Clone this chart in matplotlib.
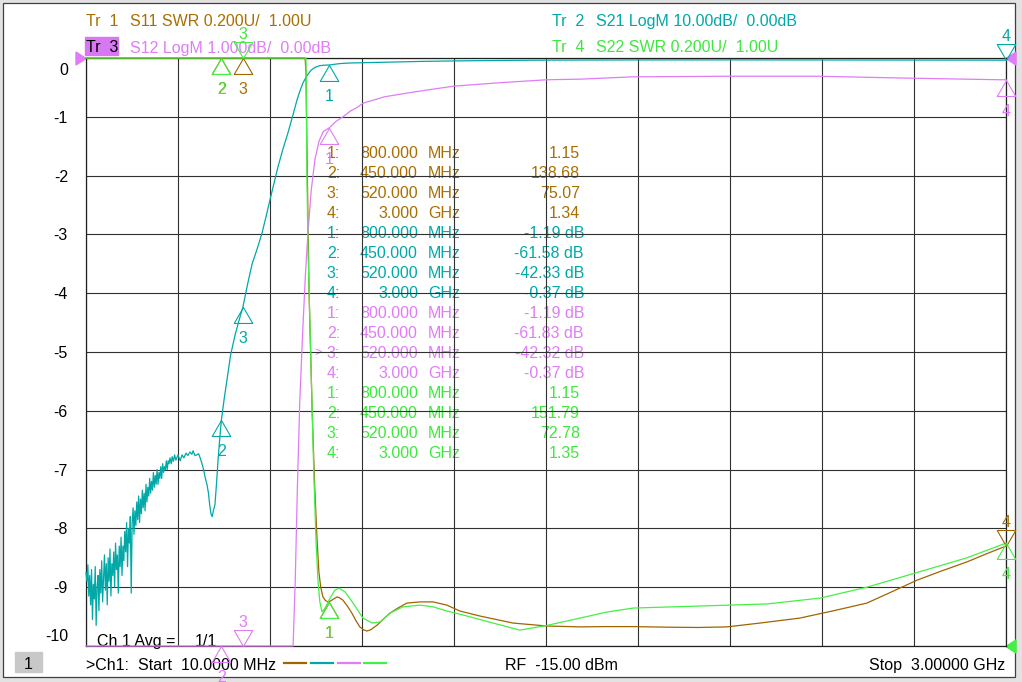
import numpy as np
import matplotlib.pyplot as plt
from matplotlib.path import Path
from matplotlib.patches import Rectangle, Polygon

plt.rcParams['font.family'] = ['Liberation Sans', 'DejaVu Sans']
FS = 11.5

# ---- data (MHz / SWR / dB) ----
s21_f = [10, 13, 16, 19, 22, 25, 28, 31, 34, 37,
         40, 43, 46, 49, 52, 55, 58, 61, 64, 67,
         70, 73, 76, 79, 82, 85, 88, 91, 94, 97,
         100, 103, 106, 109, 112, 115, 118, 121, 124, 127,
         130, 133, 136, 139, 142, 145, 148, 151, 154, 157,
         160, 163, 166, 169, 172, 175, 178, 181, 184, 187,
         190, 193, 196, 199, 202, 205, 208, 211, 214, 217,
         220, 223, 226, 229, 232, 235, 238, 241, 244, 247,
         250, 253, 256, 259, 262, 265, 268, 271, 274, 277,
         280, 283, 287, 290, 294, 298, 302, 309, 316, 322,
         328, 335, 341, 348, 354, 358, 364, 370, 376, 381,
         387, 392, 398, 403, 408, 412, 416, 420, 424, 429,
         434, 439, 445, 450, 459, 468, 480, 495, 508, 520,
         535, 550, 566, 582, 595, 608, 621, 634, 650, 666,
         681, 696, 706, 715, 728, 741, 754, 770, 785, 800,
         835, 868, 910, 1000, 1100, 1203, 1350, 1508, 1800, 2100,
         2400, 2700, 3000]
s21_db = [-87.5, -89.0, -86.2, -91.5, -88.0, -93.0, -87.0, -95.5, -89.5, -92.0,
          -86.5, -96.5, -90.0, -88.0, -94.0, -87.0, -91.0, -85.5, -92.5, -88.5,
          -84.5, -90.5, -86.0, -93.0, -85.0, -89.0, -83.5, -91.5, -86.0, -88.0,
          -84.0, -90.0, -82.5, -87.0, -84.5, -91.0, -83.0, -86.5, -81.5, -88.0,
          -83.0, -85.5, -80.5, -84.0, -79.0, -86.5, -80.0, -82.5, -78.0, -91.0,
          -79.0, -76.5, -81.0, -77.0, -79.5, -75.5, -78.5, -74.5, -79.0, -75.0,
          -77.5, -73.5, -76.5, -74.0, -77.0, -72.5, -75.5, -73.0, -74.5, -71.5,
          -74.0, -72.0, -73.5, -70.5, -73.0, -71.0, -72.5, -70.0, -72.5, -70.5,
          -71.5, -69.5, -71.5, -69.0, -70.5, -69.5, -70.0, -68.5, -70.0, -68.5,
          -69.0, -68.0, -69.0, -67.8, -68.6, -67.5, -68.4, -67.5, -68.5, -67.5,
          -68.0, -67.2, -67.6, -67.0, -67.4, -66.8, -67.6, -67.5, -67.3, -68.0,
          -69.0, -70.0, -71.5, -72.5, -74.0, -76.0, -77.5, -78.0, -77.0, -76.0,
          -72.5, -68.5, -64.5, -61.58, -58.0, -54.8, -50.5, -47.0, -44.5, -42.33,
          -38.5, -35.0, -32.5, -29.8, -27.0, -24.1, -21.3, -18.5, -15.5, -12.8,
          -10.0, -7.1, -5.5, -4.25, -3.0, -2.1, -1.6, -1.3, -1.22, -1.19,
          -0.95, -0.85, -0.8, -0.68, -0.58, -0.5, -0.42, -0.36, -0.33, -0.32,
          -0.33, -0.35, -0.37]

s12_f = [10, 200, 450, 520, 600, 660, 683, 690, 697, 705, 715, 723, 731, 742, 754, 767, 781,
         800, 822, 845, 870, 891, 910, 980, 1073, 1203, 1356, 1508, 1616, 1788, 2113, 2386,
         2656, 2981, 3000]
s12_db = [-90.0, -74.0, -61.83, -42.32, -26.0, -14.0, -10.3, -8.9, -7.3, -5.8, -4.57, -3.7,
          -3.0, -2.25, -1.73, -1.42, -1.25, -1.19, -1.08, -1.0, -0.9, -0.84, -0.77, -0.66,
          -0.58, -0.48, -0.42, -0.37, -0.36, -0.32, -0.31, -0.31, -0.34, -0.37, -0.37]

s11_f = [10, 450, 520, 650, 700, 722, 725, 728, 731.5, 735, 745, 753, 761, 767, 773, 780, 788,
         796, 800, 812, 826, 835, 845, 860, 874, 888, 900, 912, 923, 935, 956, 975, 998, 1025,
         1053, 1096, 1138, 1183, 1225, 1290, 1398, 1508, 1616, 1700, 1788, 1900, 2000, 2093,
         2200, 2330, 2440, 2548, 2630, 2711, 2790, 2873, 2940, 3000]
s11_swr = [200.0, 138.68, 75.07, 20.0, 6.0, 3.3, 2.95, 2.7, 2.45, 2.2, 1.8, 1.55, 1.36, 1.25,
           1.2, 1.167, 1.155, 1.15, 1.15, 1.158, 1.167, 1.163, 1.156, 1.135, 1.112, 1.085,
           1.065, 1.055, 1.051, 1.055, 1.071, 1.09, 1.112, 1.13, 1.146, 1.15, 1.15, 1.139,
           1.119, 1.102, 1.078, 1.068, 1.065, 1.066, 1.066, 1.064, 1.063, 1.065, 1.078, 1.095,
           1.12, 1.146, 1.185, 1.224, 1.255, 1.286, 1.315, 1.34]

s22_f = [10, 450, 520, 650, 700, 724, 725, 728, 731.5, 738, 750, 757.5, 764, 770, 777, 787,
         803, 819, 832, 852, 878, 910, 940, 966, 998, 1040, 1096, 1138, 1183, 1248, 1333,
         1420, 1508, 1616, 1700, 1788, 2006, 2223, 2396, 2548, 2711, 2873, 3000]
s22_swr = [200.0, 151.79, 72.78, 20.0, 6.0, 3.2, 3.0, 2.6, 2.35, 2.09, 1.6, 1.36, 1.22, 1.15,
           1.116, 1.129, 1.163, 1.19, 1.197, 1.184, 1.146, 1.095, 1.078, 1.082, 1.112, 1.133,
           1.139, 1.133, 1.119, 1.102, 1.078, 1.054, 1.07, 1.095, 1.115, 1.129, 1.136, 1.143,
           1.163, 1.2, 1.25, 1.3, 1.35]

marker_f = [800, 450, 520, 3000]
s11_mk = [1.15, 138.68, 75.07, 1.34]
s21_mk = [-1.19, -61.58, -42.33, -0.37]
s12_mk = [-1.19, -61.83, -42.32, -0.37]
s22_mk = [1.15, 151.79, 72.78, 1.35]


def swr_div(v):
    return np.clip((np.asarray(v, float) - 1.0) / 0.2 - 10, -10, 0)


def logm_div(v, per):
    return np.clip(np.asarray(v, float) / per, -10, 0)


BROWN, TEAL, MAG, GREEN = '#a06400', '#00a8a8', '#e07cf6', '#44f044'
BROWN_T, GREEN_T = '#a86e00', '#3ee83e'

traces = [
    dict(f=s11_f, y=swr_div(s11_swr), mk=swr_div(s11_mk), raw=s11_mk, c=BROWN, tc=BROWN_T,
         fmt='{:.2f}', orient='uuud'),
    dict(f=s21_f, y=logm_div(s21_db, 10), mk=logm_div(s21_mk, 10), raw=s21_mk, c=TEAL, tc=TEAL,
         fmt='{:.2f} dB', orient='uuud'),
    dict(f=s12_f, y=logm_div(s12_db, 1), mk=logm_div(s12_mk, 1), raw=s12_mk, c=MAG, tc=MAG,
         fmt='{:.2f} dB', orient='uudu'),
    dict(f=s22_f, y=swr_div(s22_swr), mk=swr_div(s22_mk), raw=s22_mk, c=GREEN, tc=GREEN_T,
         fmt='{:.2f}', orient='uudu'),
]

W, H = 1022, 682
fig = plt.figure(figsize=(W / 100, H / 100), dpi=100)
fig.patch.set_facecolor('#e2e2e2')

# background / text layer in pixel coordinates
bg = fig.add_axes([0, 0, 1, 1], zorder=0)
bg.set_xlim(0, W)
bg.set_ylim(H, 0)
bg.axis('off')
bg.add_patch(Rectangle((3, 3), 1012, 674, fc='white', ec='#404040', lw=0.9))

ax = fig.add_axes([86 / W, (H - 646) / H, 920 / W, 588 / H], zorder=1)
ax.set_facecolor('none')
ax.set_xlim(10, 3000)
ax.set_ylim(-10, 0)
ax.set_xticks(np.linspace(10, 3000, 11))
ax.set_yticks(np.arange(-10, 1))
ax.grid(color='#303030', lw=0.8)
ax.tick_params(length=0, labelleft=False, labelbottom=False)
for s in ax.spines.values():
    s.set_color('#202020')
    s.set_linewidth(0.9)

for t in traces:
    ax.plot(t['f'], t['y'], color=t['c'], lw=0.9, clip_on=False, zorder=3)

up = Path([(0, 0), (-0.58, -1), (0.58, -1), (0, 0)],
          [Path.MOVETO, Path.LINETO, Path.LINETO, Path.CLOSEPOLY])
down = Path([(0, 0), (-0.58, 1), (0.58, 1), (0, 0)],
            [Path.MOVETO, Path.LINETO, Path.LINETO, Path.CLOSEPOLY])
for t in traces:
    for i, (mf, my) in enumerate(zip(marker_f, t['mk'])):
        o = t['orient'][i]
        ax.plot([mf], [my], marker=up if o == 'u' else down, ms=23, mfc='none',
                mec=t['c'], mew=0.8, clip_on=False, zorder=4)
        dy = -36 if o == 'u' else 19
        ax.annotate(str(i + 1), (mf, my), xytext=(0, dy * 0.72), textcoords='offset points',
                    ha='center', va='baseline', color=t['tc'], fontsize=FS,
                    annotation_clip=False, zorder=4)

# reference position arrows
bg.add_patch(Polygon([(76, 52), (76, 65), (86, 58.5)], color=MAG))
bg.add_patch(Polygon([(1016, 52), (1016, 65), (1006, 58.5)], color=MAG))
bg.add_patch(Polygon([(1016, 640), (1016, 653), (1006, 646.5)], color=GREEN))

# y labels of the active trace
for k in range(11):
    yy = 58 + k * 58.8
    if k == 0:
        yy = 69
    if k == 10:
        yy = 635
    bg.text(68, yy + 6, str(-k), ha='right', va='baseline', fontsize=FS, color='black')

# header
bg.add_patch(Rectangle((85, 37), 33, 18, color='#d878f0'))
head = [(86, 26, 'Tr  1', 'S11 SWR 0.200U/  1.00U', BROWN_T, BROWN_T),
        (552, 26, 'Tr  2', 'S21 LogM 10.00dB/  0.00dB', TEAL, TEAL),
        (86, 52.5, 'Tr  3', 'S12 LogM 1.000dB/  0.00dB', 'black', MAG),
        (552, 52.5, 'Tr  4', 'S22 SWR 0.200U/  1.00U', GREEN_T, GREEN_T)]
for x, y, a, b, c1, c2 in head:
    bg.text(x, y, a, fontsize=FS, color=c1, va='baseline')
    bg.text(x + 44, y, b, fontsize=FS, color=c2, va='baseline')

# marker table
row = 0
for t in traces:
    for i, mf in enumerate(marker_f):
        yb = 158 + 20 * row
        if mf < 1000:
            fs, unit = '{:.3f}'.format(mf), 'MHz'
        else:
            fs, unit = '{:.3f}'.format(mf / 1000), 'GHz'
        val = t['fmt'].format(t['raw'][i])
        bg.text(340, yb, '{}:'.format(i + 1), ha='right', va='baseline', fontsize=FS, color=t['tc'])
        bg.text(418, yb, fs, ha='right', va='baseline', fontsize=FS, color=t['tc'])
        bg.text(428, yb, unit, ha='left', va='baseline', fontsize=FS, color=t['tc'])
        bg.text(584 if 'dB' in val else 580, yb, val, ha='right', va='baseline',
                fontsize=FS, color=t['tc'])
        row += 1
bg.text(314, 356, '>', fontsize=9, color=MAG, va='baseline')

# footer
bg.text(97, 646, 'Ch 1 Avg =', fontsize=FS, va='baseline')
bg.text(195, 646, '1/1', fontsize=FS, va='baseline')
bg.add_patch(Rectangle((15, 652), 27, 20, color='#c8c8c8'))
bg.text(28.5, 669, '1', ha='center', va='baseline', fontsize=FS)
bg.text(86, 670, '>Ch1:  Start  10.0000 MHz', fontsize=FS, va='baseline')
for x0, c in zip([284, 311, 338, 364], [BROWN, TEAL, MAG, GREEN]):
    bg.plot([x0, x0 + 22], [663, 663], color=c, lw=1.6)
bg.text(505, 670, 'RF  -15.00 dBm', fontsize=FS, va='baseline')
bg.text(1005, 670, 'Stop  3.00000 GHz', ha='right', fontsize=FS, va='baseline')

fig.savefig('out.png', dpi=100, facecolor=fig.get_facecolor())
